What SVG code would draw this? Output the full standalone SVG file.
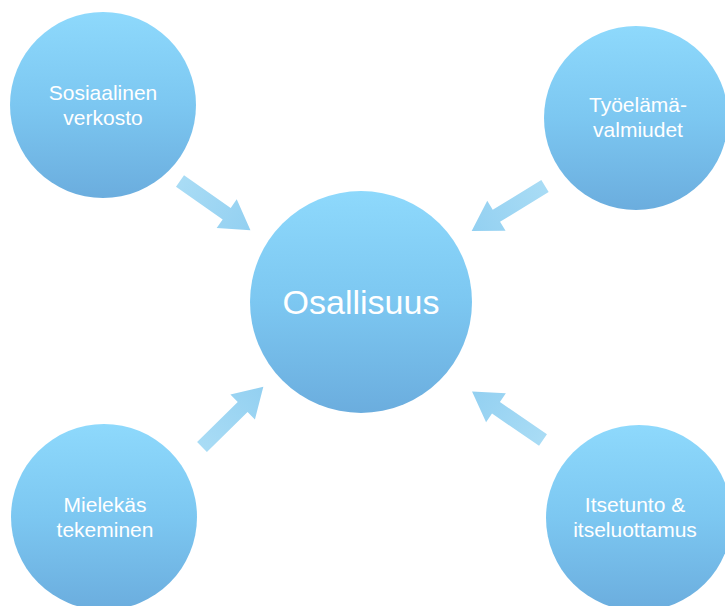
<svg xmlns="http://www.w3.org/2000/svg" width="725" height="606" viewBox="0 0 725 606">
  <defs>
    <linearGradient id="ball" x1="0" y1="0" x2="0" y2="1">
      <stop offset="0" stop-color="#8ed9fc"/>
      <stop offset="0.5" stop-color="#7cc7f1"/>
      <stop offset="1" stop-color="#6badde"/>
    </linearGradient>
    <linearGradient id="arr" x1="0" y1="0" x2="1" y2="0">
      <stop offset="0" stop-color="#a9dcf5"/>
      <stop offset="1" stop-color="#93d0f1"/>
    </linearGradient>
    <path id="arrow" d="M0,-7 L57,-7 L57,-17.5 L86,0 L57,17.5 L57,7 L0,7 Z"/>
  </defs>
  <style>
    .node circle { fill: url(#ball); }
    .lbl { font-family: "Liberation Sans", Arial, sans-serif; fill: #ffffff; font-size: 21px; text-anchor: middle; }
    .main { font-size: 34px; }
    .conn use { fill: url(#arr); }
  </style>
  <rect width="725" height="606" fill="#ffffff"/>
  <g id="connectors" class="conn">
    <use href="#arrow" transform="translate(180,181) rotate(35)"/>
    <use href="#arrow" transform="translate(545,186) rotate(148.5)"/>
    <use href="#arrow" transform="translate(202,447) rotate(-44.5)"/>
    <use href="#arrow" transform="translate(543,440) rotate(-145.6)"/>
  </g>
  <g id="node-osallisuus" class="node">
    <circle cx="361" cy="302" r="111"/>
    <text class="lbl main" x="361" y="314">Osallisuus</text>
  </g>
  <g id="node-sosiaalinen" class="node">
    <circle cx="103" cy="105" r="93"/>
    <text class="lbl" x="103" y="100">Sosiaalinen</text>
    <text class="lbl" x="103" y="125">verkosto</text>
  </g>
  <g id="node-tyoelama" class="node">
    <circle cx="636" cy="118" r="92"/>
    <text class="lbl" x="638" y="112">Työelämä-</text>
    <text class="lbl" x="638" y="137">valmiudet</text>
  </g>
  <g id="node-mielekas" class="node">
    <circle cx="104" cy="517" r="93"/>
    <text class="lbl" x="105" y="512">Mielekäs</text>
    <text class="lbl" x="105" y="537">tekeminen</text>
  </g>
  <g id="node-itsetunto" class="node">
    <circle cx="639" cy="518" r="93"/>
    <text class="lbl" x="635" y="512">Itsetunto &amp;</text>
    <text class="lbl" x="635" y="537">itseluottamus</text>
  </g>
</svg>
